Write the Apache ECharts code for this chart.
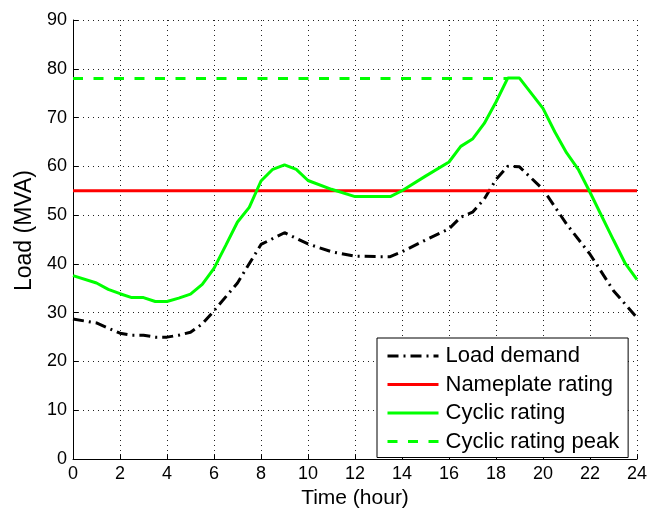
<!DOCTYPE html>
<html>
<head>
<meta charset="utf-8">
<script src="https://cdn.jsdelivr.net/npm/echarts@6/dist/echarts.min.js"></script>
<style>
html,body{margin:0;padding:0;background:#fff;}
#chart{width:650px;height:514px;}
</style>
</head>
<body>
<div id="chart"></div>
<script>
// Time (hour) and values (MVA)
const loadTime = [0,1,2,2.5,3,3.5,4,4.5,5,5.5,6,7,8,9,10,11,12,13,13.5,14,15,16,16.5,17,17.5,18,18.5,19,20,21,22,23,24];
const loadDemand = [28.7,27.9,25.8,25.4,25.4,25.0,25.0,25.4,26.0,27.7,30.4,36.1,44.0,46.4,44.1,42.5,41.6,41.5,41.5,42.5,44.9,47.2,49.6,50.6,53.3,57.3,60.0,59.9,55.3,48.2,42.0,34.5,29.0];

const cyclicTime = [0,1,1.5,2,2.5,3,3.5,4,4.5,5,5.5,6,6.5,7,7.5,8,8.5,9,9.5,10,11,12,13,13.5,14,15,16,16.5,17,17.5,18,18.5,19,20,20.5,21,21.5,22,23,23.5,24];
const cyclicRating = [37.6,36.1,34.8,33.9,33.1,33.1,32.3,32.3,33.0,33.8,35.8,39.1,43.8,48.6,51.6,57.0,59.4,60.3,59.4,57.1,55.3,53.8,53.8,53.8,55.0,58.0,60.9,64.1,65.6,68.8,73.2,78.1,78.1,71.9,67.1,62.8,59.4,54.7,44.9,40.1,36.8];

const nameplateTime = [0,24];
const nameplateRating = [55,55];

const peakTime = [0,18.5];
const cyclicPeak = [78,78];

const xTicks = [0,2,4,6,8,10,12,14,16,18,20,22,24];
const yTicks = [0,10,20,30,40,50,60,70,80,90];

const seriesNames = ['Load demand','Nameplate rating','Cyclic rating','Cyclic rating peak'];

function pairs(xs, ys){ return xs.map((x,i)=>[x, ys[i]]); }

const FONT = 'Liberation Sans, Arial, Helvetica, sans-serif';
const chart = echarts.init(document.getElementById('chart'), null, {renderer:'canvas'});

const axisCommon = {
  axisLine:{show:true, onZero:false, lineStyle:{color:'#000', width:1}},
  axisTick:{show:true, inside:true, length:5, lineStyle:{color:'#000'}},
  splitLine:{show:true, lineStyle:{color:'#222', width:1, type:[1,4]}},
  axisLabel:{color:'#000', fontSize:18, fontFamily:FONT},
  nameTextStyle:{color:'#000', fontSize:21, fontFamily:FONT}
};

chart.setOption({
  animation:false,
  backgroundColor:'#fff',
  grid:{left:73, right:13, top:20, bottom:49, containLabel:false},
  xAxis:Object.assign({}, axisCommon, {
    type:'value', min:xTicks[0], max:xTicks[xTicks.length-1], interval:2,
    name:'Time (hour)', nameLocation:'middle', nameGap:26,
    axisLabel:Object.assign({}, axisCommon.axisLabel, {margin:6})
  }),
  yAxis:Object.assign({}, axisCommon, {
    type:'value', min:yTicks[0], max:yTicks[yTicks.length-1], interval:10,
    name:'Load (MVA)', nameLocation:'middle', nameGap:36,
    nameTextStyle:Object.assign({}, axisCommon.nameTextStyle, {fontSize:23, padding:[0,0,0,18]}),
    axisLabel:Object.assign({}, axisCommon.axisLabel, {margin:6})
  }),
  legend:{
    data:seriesNames,
    orient:'vertical', left:377, top:338,
    backgroundColor:'#fff', borderColor:'#000', borderWidth:1, borderRadius:0,
    padding:[7,9,5,9], itemGap:6.5, itemWidth:51, itemHeight:14,
    itemStyle:{opacity:0},
    lineStyle:{width:3},
    textStyle:{color:'#000', fontSize:22, fontFamily:FONT, padding:[0,0,0,2]}
  },
  series:[
    {name:seriesNames[0], type:'line', symbol:'none', data:pairs(loadTime, loadDemand),
     lineStyle:{color:'#000', width:3, type:[11,5,2,5]}, itemStyle:{color:'#000'}, z:2},
    {name:seriesNames[1], type:'line', symbol:'none', data:pairs(nameplateTime, nameplateRating),
     lineStyle:{color:'#ff0000', width:3}, itemStyle:{color:'#ff0000'}, z:3},
    {name:seriesNames[2], type:'line', symbol:'none', data:pairs(cyclicTime, cyclicRating),
     lineStyle:{color:'#00ff00', width:3}, itemStyle:{color:'#00ff00'}, z:4},
    {name:seriesNames[3], type:'line', symbol:'none', data:pairs(peakTime, cyclicPeak),
     lineStyle:{color:'#00ff00', width:3, type:[10,10.5]}, itemStyle:{color:'#00ff00'}, z:5}
  ]
});
</script>
</body>
</html>
